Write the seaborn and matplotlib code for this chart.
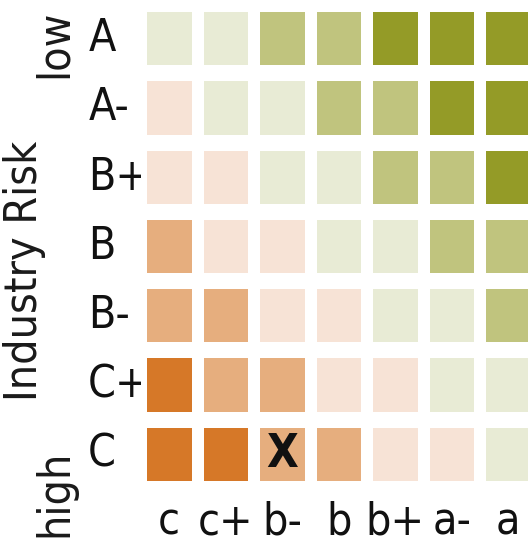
import numpy as np
import pandas as pd
import matplotlib
matplotlib.use("Agg")
import matplotlib.pyplot as plt
from matplotlib.colors import ListedColormap
import seaborn as sns

# data
industry_risk = ["A", "A-", "B+", "B", "B-", "C+", "C"]
company_rating = ["c", "c+", "b-", "b", "b+", "a-", "a"]
# 0 = dark orange ... 5 = dark green
levels = [
    [3, 3, 4, 4, 5, 5, 5],
    [2, 3, 3, 4, 4, 5, 5],
    [2, 2, 3, 3, 4, 4, 5],
    [1, 2, 2, 3, 3, 4, 4],
    [1, 1, 2, 2, 3, 3, 4],
    [0, 1, 1, 2, 2, 3, 3],
    [0, 0, 1, 1, 2, 2, 3],
]
marks = [[""] * 7 for _ in range(7)]
marks[6][2] = "X"

palette = ["#D67828", "#E6AE7E", "#F7E3D6", "#E8EBD5", "#C0C47E", "#949B27"]

df = pd.DataFrame(levels, index=industry_risk, columns=company_rating)

sns.set_style("white")
plt.rcParams['font.family'] = ['DejaVu Sans']
plt.rcParams['font.stretch'] = 'condensed'

fig = plt.figure(figsize=(5.28, 5.38), dpi=100)
ax = fig.add_axes([141/528, 1 - 489/538, 395.5/528, 485/538])

sns.heatmap(df, ax=ax, cmap=ListedColormap(palette), vmin=-0.5, vmax=5.5,
            cbar=False, annot=np.array(marks), fmt="",
            annot_kws={"fontsize": 33, "fontweight": "bold", "color": "#111111"})

# white gaps between cells (wider between rows than columns)
for i in range(8):
    ax.axvline(i, color="white", lw=12*0.72)
    ax.axhline(i, color="white", lw=16*0.72)

ax.set_xlabel("")
ax.set_ylabel("")
ax.tick_params(axis="both", length=0, labelsize=32, colors="#111111")
ax.tick_params(axis="x", pad=8)
ax.tick_params(axis="y", pad=38)
ax.set_yticklabels(industry_risk, rotation=0)
for lbl in ax.get_yticklabels():
    lbl.set_ha("left")
for s in ax.spines.values():
    s.set_visible(False)

side = dict(rotation=90, rotation_mode="anchor", ha="center", va="baseline",
            fontsize=32, color="#1a1a1a")
fig.text(67/528, 1 - 44/538, "low", **side)
fig.text(37/528, 1 - 271/538, "Industry Risk", **side)
fig.text(67/528, 1 - 493/538, "high", **side)

fig.savefig("out.png", dpi=100)
